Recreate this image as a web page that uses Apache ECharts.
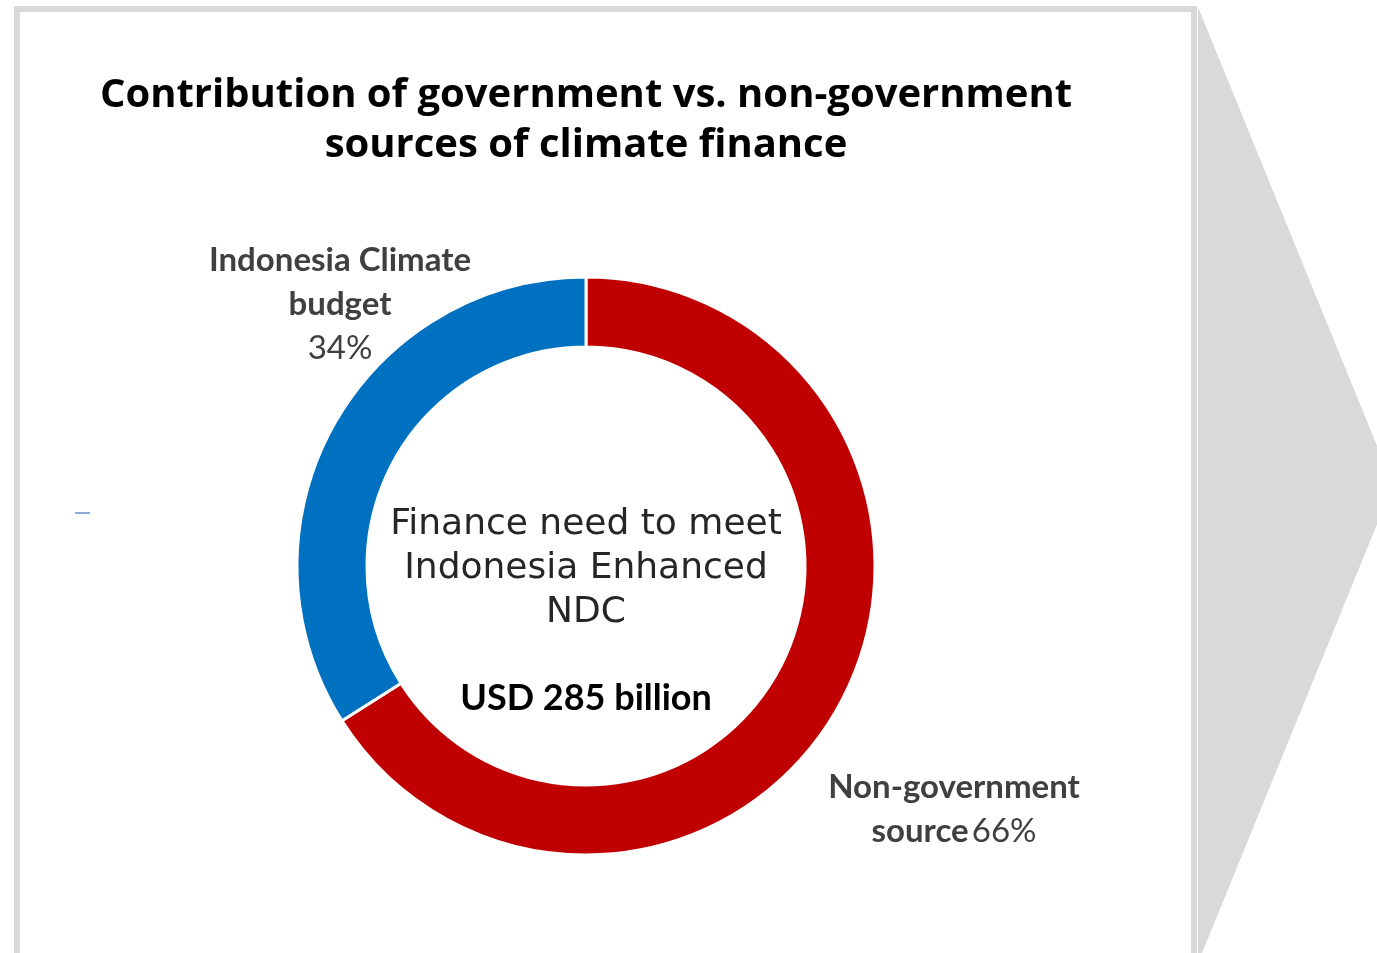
<!DOCTYPE html>
<html>
<head>
<meta charset="utf-8">
<style>
  html, body { margin: 0; padding: 0; background: #fff; }
  #main { width: 1377px; height: 953px; }
</style>
<script src="https://cdn.jsdelivr.net/npm/echarts@6/dist/echarts.min.js"></script>
</head>
<body>
<div id="main"></div>
<script>
// data
var categories = ['Non-government source', 'Indonesia Climate budget'];
var shares = [66, 34];
var colors = ['#C00000', '#0070C0'];
var titleLines = ['Contribution of government vs. non-government', 'sources of climate finance'];
var centerLines = ['Finance need to meet', 'Indonesia Enhanced', 'NDC'];
var totalText = 'USD 285 billion';

var chart = echarts.init(document.getElementById('main'));

var option = {
    backgroundColor: '#fff',
    animation: false,
    title: [{
        text: titleLines.join('\n'),
        left: 581,
        top: 66,
        textAlign: 'center',
        textStyle: {
            fontFamily: 'Open Sans',
            fontWeight: 'bold',
            fontSize: 40,
            lineHeight: 50,
            color: '#000'
        }
    }, {
        text: centerLines.join('\n'),
        subtext: totalText,
        left: 581,
        top: 498,
        textAlign: 'center',
        itemGap: 45,
        textStyle: {
            fontFamily: 'DejaVu Sans',
            fontWeight: 'normal',
            fontSize: 36,
            lineHeight: 44,
            color: '#262626'
        },
        subtextStyle: {
            fontFamily: 'Lato',
            fontWeight: 'bold',
            fontSize: 36,
            color: '#000'
        }
    }],
    graphic: [{
        type: 'rect',
        shape: { x: 17, y: 9, width: 1177, height: 960 },
        style: { fill: 'none', stroke: '#d9d9d9', lineWidth: 6 },
        silent: true
    }, {
        type: 'polygon',
        shape: { points: [[1198, 7], [1393, 485], [1198, 963]] },
        style: { fill: '#d9d9d9' },
        silent: true
    }, {
        type: 'rect',
        shape: { x: 75, y: 512, width: 15, height: 2 },
        style: { fill: '#8eaadb' },
        silent: true
    }],
    series: [{
        type: 'pie',
        center: [586, 566],
        radius: [219, 289],
        startAngle: 90,
        clockwise: true,
        itemStyle: { borderColor: '#fff', borderWidth: 3 },
        labelLine: { show: false },
        label: {
            show: true,
            position: 'outside',
            fontFamily: 'Lato',
            color: '#404040',
            formatter: function (p) {
                if (p.dataIndex === 0) {
                    return '{b|Non-government}\n{b|source} {n|' + p.value + '%}';
                }
                return '{b|Indonesia Climate}\n{b|budget}\n{n|' + p.value + '%}';
            },
            rich: {
                b: { fontFamily: 'Lato', fontWeight: 'bold', fontSize: 33, lineHeight: 44, color: '#404040' },
                n: { fontFamily: 'Lato', fontSize: 33, lineHeight: 44, color: '#404040' }
            }
        },
        labelLayout: function (p) {
            if (p.dataIndex === 0) {
                return { x: 954, y: 809, align: 'center', verticalAlign: 'middle' };
            }
            return { x: 340, y: 304, align: 'center', verticalAlign: 'middle' };
        },
        data: categories.map(function (c, i) {
            return { name: c, value: shares[i], itemStyle: { color: colors[i] } };
        })
    }]
};

chart.setOption(option);
</script>
</body>
</html>
